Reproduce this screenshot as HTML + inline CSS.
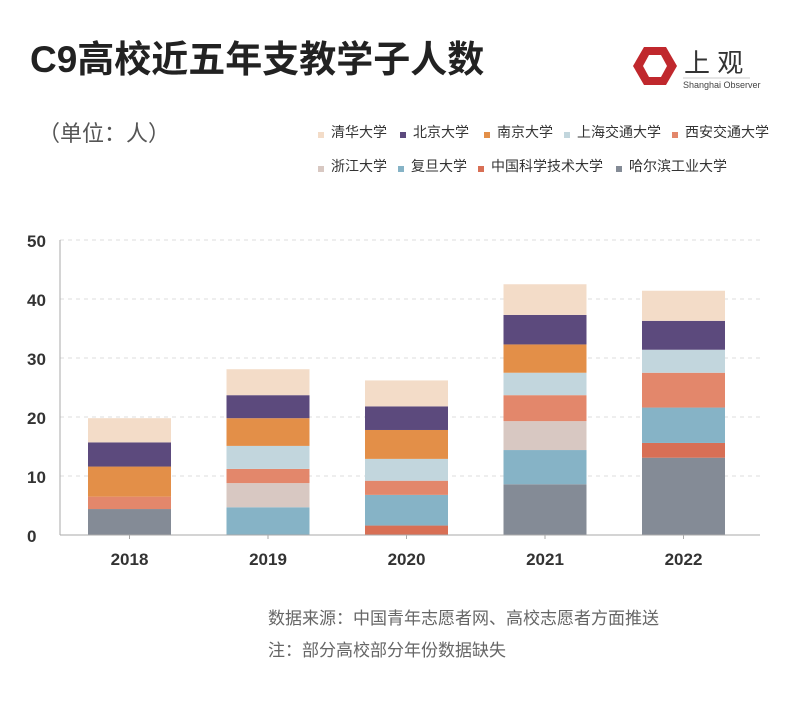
<!DOCTYPE html>
<html><head><meta charset="utf-8">
<style>
body{margin:0;background:#fff;width:800px;height:705px;overflow:hidden;font-family:"Liberation Sans","Noto Sans CJK SC",sans-serif;}
svg text{font-family:"Liberation Sans","Noto Sans CJK SC",sans-serif;}
</style></head>
<body>
<svg id="chart" width="800" height="705" viewBox="0 0 800 705">
<text x="30" y="72" font-size="37" font-weight="bold" fill="#222">C9高校近五年支教学子人数</text>
<g>
<polygon points="644,47 666,47 677,66 666,85 644,85 633,66" fill="#c0282d"/>
<polygon points="649,55 661,55 667,66 661,77 649,77 643,66" fill="#fff"/>
<text x="684" y="72" font-size="26" fill="#333">上 观</text>
<line x1="683" y1="78" x2="750" y2="78" stroke="#bbb" stroke-width="0.8"/>
<text x="683" y="88" font-size="9" fill="#444">Shanghai Observer</text>
</g>
<text x="38" y="141" font-size="22" fill="#555">（单位：人）</text>
<g id="legend"></g>
<g id="grid"></g>
<g id="bars"></g>
<g id="axes"></g>
<text x="268" y="624" font-size="17" fill="#666">数据来源：中国青年志愿者网、高校志愿者方面推送</text>
<text x="268" y="656" font-size="17" fill="#666">注：部分高校部分年份数据缺失</text>
</svg>
<script>
const years=["2018","2019","2020","2021","2022"];
const schools=["哈尔滨工业大学","中国科学技术大学","复旦大学","浙江大学","西安交通大学","上海交通大学","南京大学","北京大学","清华大学"];
const hit=[4.4,0,0,8.6,13.1];
const ustc=[0,0,1.6,0,2.5];
const fudan=[0,4.7,5.2,5.8,6.0];
const zju=[0,4.1,0,4.9,0];
const xjtu=[2.1,2.4,2.4,4.4,5.9];
const sjtu=[0,3.9,3.7,3.8,3.9];
const nju=[5.1,4.7,4.9,4.8,0];
const pku=[4.1,3.9,4.0,5.0,4.9];
const thu=[4.1,4.4,4.4,5.2,5.1];
const yTicks=[0,10,20,30,40,50];
const series=[hit,ustc,fudan,zju,xjtu,sjtu,nju,pku,thu];
const colors=["#848b96","#d86f55","#86b3c6","#d8c8c2","#e3876b","#c2d6dd","#e38f48","#5c4a7d","#f3dcc8"];
const NS="http://www.w3.org/2000/svg";
const x0=60,x1=760,y0=535,yTop=240,maxV=50;
const y=v=>y0-(v/maxV)*(y0-yTop);
const band=138.5;
const cx=i=>x0+69.5+band*i;
const bw=83;
function mk(tag,attrs,parent){const e=document.createElementNS(NS,tag);for(const k in attrs)e.setAttribute(k,attrs[k]);parent.appendChild(e);return e;}
const grid=document.getElementById('grid'),bars=document.getElementById('bars'),axes=document.getElementById('axes'),legend=document.getElementById('legend');
yTicks.forEach(t=>{
  if(t>0){const l=mk('line',{x1:x0,x2:x1,y1:y(t),y2:y(t),stroke:'#ddd','stroke-dasharray':'4,4'},grid);
  
  }
  const tx=mk('text',{x:27,y:y(t)+7,'font-size':'17','font-weight':'bold',fill:'#333'},axes);tx.textContent=t;
  
  
});
const ax=mk('line',{x1:x0,x2:x0,y1:yTop,y2:y0,stroke:'#aaa'},axes);


const bx=mk('line',{x1:x0,x2:x1,y1:y0,y2:y0,stroke:'#aaa'},axes);


years.forEach((yr,i)=>{
  mk('line',{x1:cx(i),x2:cx(i),y1:y0,y2:y0+4,stroke:'#aaa'},axes);
  const tx=mk('text',{x:cx(i),y:y0+30,'font-size':'17','font-weight':'bold',fill:'#333','text-anchor':'middle'},axes);tx.textContent=yr;
  
  
  let acc=0;
  series.forEach((s,k)=>{
    const v=s[i];if(!v)return;
    const r=mk('rect',{x:cx(i)-bw/2,y:y(acc+v),width:bw,height:y(acc)-y(acc+v),fill:colors[k]},bars);
    
    
    acc+=v;
  });
});
const legOrder=[8,7,6,5,4,3,2,1,0];
const legPos=[[318,135],[400,135],[484,135],[564,135],[672,135],[318,169],[398,169],[478,169],[616,169]];
legOrder.forEach((k,j)=>{
  const [lx,ly]=legPos[j];
  mk('rect',{x:lx,y:ly-3,width:6,height:6,fill:colors[k]},legend);
  const tx=mk('text',{x:lx+13,y:ly+2,'font-size':'14',fill:'#333'},legend);tx.textContent=schools[k];
  
  
});
</script>
</body></html>
